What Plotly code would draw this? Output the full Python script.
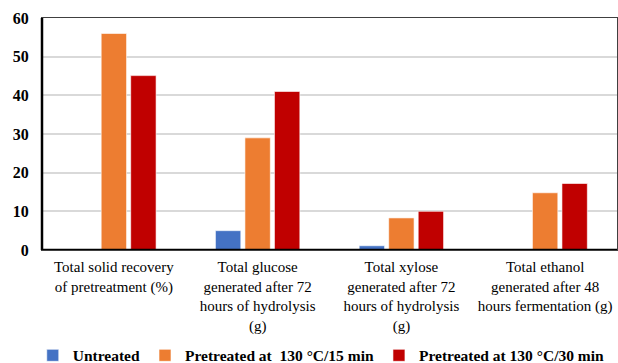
import plotly.graph_objects as go

categories = [
    "Total solid recovery<br>of pretreatment (%)",
    "Total glucose<br>generated after 72<br>hours of hydrolysis<br>(g)",
    "Total xylose<br>generated after 72<br>hours of hydrolysis<br>(g)",
    "Total ethanol<br>generated after 48<br>hours fermentation (g)",
]
series_names = ["Untreated", "Pretreated at \u00a0130 °C/15 min", "Pretreated at 130 °C/30 min"]
untreated = [None, 5.0, 1.1, None]
pre_15 = [56.0, 29.0, 8.3, 14.8]
pre_30 = [45.1, 41.0, 10.0, 17.2]
colors = ["#4472C4", "#ED7D31", "#C00000"]
y_ticks = [0, 10, 20, 30, 40, 50, 60]

serif = "Liberation Serif"

fig = go.Figure()
for name, vals, col in zip(series_names, [untreated, pre_15, pre_30], colors):
    fig.add_trace(go.Bar(
        x=categories, y=vals, name=name,
        marker=dict(color=col, line=dict(color="rgba(255,255,255,0.6)", width=1)),
    ))

fig.update_layout(
    width=618, height=363,
    margin=dict(l=42, r=1, t=18, b=113, autoexpand=False),
    paper_bgcolor="white", plot_bgcolor="white",
    barmode="group", bargap=0.384, bargroupgap=0.14,
    font=dict(family=serif, color="black", size=15),
    showlegend=True,
    legend=dict(
        orientation="h", x=0.053, xref="container", xanchor="left",
        y=0.02, yref="container", yanchor="middle",
        font=dict(family=serif, size=15.5, color="black", weight="bold"),
        itemwidth=30, tracegroupgap=0,
    ),
    xaxis=dict(
        automargin=False,
        showline=True, linecolor="#404040", linewidth=1, mirror=True,
        ticks="", ticklabelstandoff=3,
        tickfont=dict(family=serif, size=15, color="black"),
        showgrid=False,
    ),
    yaxis=dict(
        automargin=False,
        range=[0, 60], tickvals=y_ticks,
        showline=True, linecolor="#404040", linewidth=1, mirror=True,
        showgrid=True, gridcolor="#d9d9d9", gridwidth=1.5,
        zeroline=False,
        ticks="", ticklabelstandoff=9,
        tickfont=dict(family=serif, size=16, color="black", weight="bold"),
    ),
)

# Heavier black lines along the left axis and the zero baseline
fig.add_shape(type="line", xref="paper", yref="paper", x0=0, x1=0, y0=0, y1=1,
              line=dict(color="black", width=2.5))
fig.add_shape(type="line", xref="paper", yref="y", x0=0, x1=1, y0=0, y1=0,
              line=dict(color="black", width=2.5))

fig.write_html("out.html")
